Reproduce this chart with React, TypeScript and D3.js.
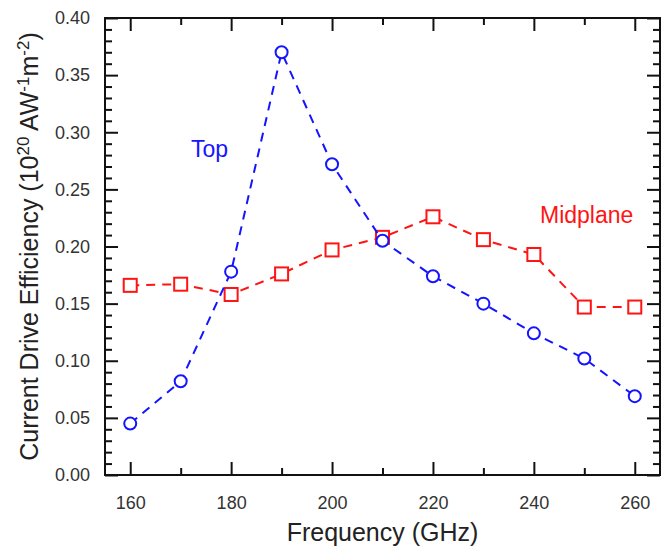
import React, { useRef, useEffect } from 'react';
import * as d3 from 'd3';

const freqs = [160, 170, 180, 190, 200, 210, 220, 230, 240, 250, 260];
const topEff = [0.045, 0.082, 0.178, 0.37, 0.272, 0.205, 0.174, 0.15, 0.124, 0.102, 0.069];
const midEff = [0.166, 0.167, 0.158, 0.176, 0.197, 0.208, 0.226, 0.206, 0.193, 0.147, 0.147];
const xMajor = [160, 180, 200, 220, 240, 260];
const xMinor = [170, 190, 210, 230, 250];
const yMajor = [0, 0.05, 0.1, 0.15, 0.2, 0.25, 0.3, 0.35, 0.4];

const FONT = '"Liberation Sans", Arial, sans-serif';
const BLUE = '#1414ff';
const RED = '#ff1414';

function App() {
  const svgRef = useRef<SVGSVGElement>(null);
  const width = 670;
  const height = 546;

  useEffect(() => {
    const margin = { top: 18, right: 10, bottom: 71, left: 105 };
    const innerWidth = width - margin.left - margin.right;
    const innerHeight = height - margin.top - margin.bottom;

    const svg = d3.select(svgRef.current);
    svg.selectAll('*').remove();

    const xScale = d3.scaleLinear().domain([155, 265]).range([0, innerWidth]);
    const yScale = d3.scaleLinear().domain([0, 0.4]).range([innerHeight, 0]);

    const g = svg.append('g').attr('transform', `translate(${margin.left}, ${margin.top})`);

    const yMinor = d3.range(0, 41).map(i => i / 100).filter(v => Math.round(v * 100) % 5 !== 0);

    const styleAxis = (sel: any) => {
      sel.select('.domain').remove();
      sel.selectAll('line').attr('stroke', '#111').attr('stroke-width', 2);
      sel.selectAll('text').attr('font-family', FONT).attr('font-size', 18).attr('fill', '#333');
    };

    // bottom axis
    g.append('g')
      .attr('transform', `translate(0, ${innerHeight})`)
      .call(d3.axisBottom(xScale).tickValues(xMajor).tickSize(-13).tickPadding(21).tickFormat(d3.format('d')))
      .call(styleAxis);
    g.append('g')
      .attr('transform', `translate(0, ${innerHeight})`)
      .call(d3.axisBottom(xScale).tickValues(xMinor).tickSize(-7).tickFormat(() => ''))
      .call(styleAxis);

    // top axis (mirror)
    g.append('g')
      .call(d3.axisTop(xScale).tickValues(xMajor).tickSize(-13).tickFormat(() => ''))
      .call(styleAxis);
    g.append('g')
      .call(d3.axisTop(xScale).tickValues(xMinor).tickSize(-7).tickFormat(() => ''))
      .call(styleAxis);

    // left axis
    g.append('g')
      .call(d3.axisLeft(yScale).tickValues(yMajor).tickSize(-13).tickPadding(15).tickFormat(d3.format('.2f')))
      .call(styleAxis);
    g.append('g')
      .call(d3.axisLeft(yScale).tickValues(yMinor).tickSize(-7).tickFormat(() => ''))
      .call(styleAxis);

    // right axis (mirror)
    g.append('g')
      .attr('transform', `translate(${innerWidth}, 0)`)
      .call(d3.axisRight(yScale).tickValues(yMajor).tickSize(-13).tickFormat(() => ''))
      .call(styleAxis);
    g.append('g')
      .attr('transform', `translate(${innerWidth}, 0)`)
      .call(d3.axisRight(yScale).tickValues(yMinor).tickSize(-7).tickFormat(() => ''))
      .call(styleAxis);

    // frame
    g.append('rect')
      .attr('width', innerWidth)
      .attr('height', innerHeight)
      .attr('fill', 'none')
      .attr('stroke', '#111')
      .attr('stroke-width', 2);

    const line = d3.line<number>()
      .x((d, i) => xScale(freqs[i]))
      .y(d => yScale(d));

    // Midplane
    g.append('path')
      .attr('d', line(midEff))
      .attr('fill', 'none')
      .attr('stroke', RED)
      .attr('stroke-width', 2)
      .attr('stroke-dasharray', '9,7');

    g.selectAll('rect.mid')
      .data(midEff)
      .enter()
      .append('rect')
      .attr('class', 'mid')
      .attr('x', (d, i) => xScale(freqs[i]) - 6.5)
      .attr('y', d => yScale(d) - 6.5)
      .attr('width', 13)
      .attr('height', 13)
      .attr('fill', 'white')
      .attr('stroke', RED)
      .attr('stroke-width', 2);

    // Top
    g.append('path')
      .attr('d', line(topEff))
      .attr('fill', 'none')
      .attr('stroke', BLUE)
      .attr('stroke-width', 2)
      .attr('stroke-dasharray', '9,7');

    g.selectAll('circle.top')
      .data(topEff)
      .enter()
      .append('circle')
      .attr('class', 'top')
      .attr('cx', (d, i) => xScale(freqs[i]))
      .attr('cy', d => yScale(d))
      .attr('r', 6)
      .attr('fill', 'white')
      .attr('stroke', BLUE)
      .attr('stroke-width', 2);

    // series labels
    g.append('text')
      .attr('x', 86)
      .attr('y', 139)
      .attr('fill', BLUE)
      .attr('font-family', FONT)
      .attr('font-size', 23)
      .text('Top');

    g.append('text')
      .attr('x', 435)
      .attr('y', 205)
      .attr('fill', RED)
      .attr('font-family', FONT)
      .attr('font-size', 23)
      .text('Midplane');

    // X-axis label
    g.append('text')
      .attr('x', innerWidth / 2)
      .attr('y', innerHeight + 66)
      .attr('fill', '#222')
      .attr('text-anchor', 'middle')
      .attr('font-family', FONT)
      .attr('font-size', 25)
      .text('Frequency (GHz)');

    // Y-axis label
    const yl = g.append('text')
      .attr('transform', 'rotate(-90)')
      .attr('x', -innerHeight / 2)
      .attr('y', -67)
      .attr('fill', '#222')
      .attr('text-anchor', 'middle')
      .attr('font-family', FONT)
      .attr('font-size', 25);
    yl.append('tspan').text('Current Drive Efficiency (10');
    yl.append('tspan').attr('dy', -9).attr('font-size', 17).text('20');
    yl.append('tspan').attr('dy', 9).text(' AW');
    yl.append('tspan').attr('dy', -9).attr('font-size', 17).text('-1');
    yl.append('tspan').attr('dy', 9).text('m');
    yl.append('tspan').attr('dy', -9).attr('font-size', 17).text('-2');
    yl.append('tspan').attr('dy', 9).text(')');
  }, []);

  return (
    <svg
      ref={svgRef}
      width={width}
      height={height}
      viewBox={`0 0 ${width} ${height}`}
      style={{ position: 'absolute', left: 0, top: 0, background: 'white' }}
    />
  );
}

export default App;
